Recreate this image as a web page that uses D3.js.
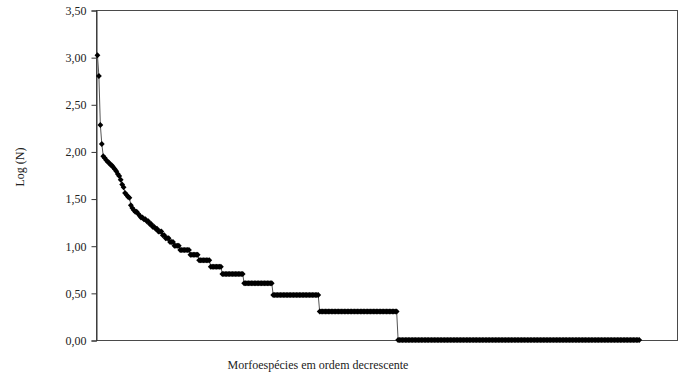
<!DOCTYPE html>
<html>
<head>
<meta charset="utf-8">
<script src="https://cdn.jsdelivr.net/npm/d3@7"></script>
<style>
  body { margin: 0; background: #fff; }
  svg text { font-family: "Liberation Serif", serif; fill: #222; }
</style>
</head>
<body>
<svg id="chart" width="682" height="376"></svg>
<script>
// log(N) of the most abundant morphospecies, one value per species
var topLogN = [3.02, 2.80, 2.28, 2.08, 1.95, 1.93, 1.91, 1.89, 1.88, 1.86,
               1.85, 1.83, 1.81, 1.79, 1.76, 1.74, 1.70, 1.65, 1.62, 1.56,
               1.54, 1.52, 1.51, 1.43, 1.40, 1.38, 1.36, 1.36, 1.34, 1.32,
               1.30, 1.30, 1.28, 1.28, 1.26, 1.26, 1.23, 1.23, 1.20, 1.20,
               1.18, 1.18, 1.15, 1.15, 1.15, 1.11, 1.11, 1.08, 1.08, 1.08,
               1.04, 1.04, 1.04, 1.00, 1.00, 1.00, 1.00];
// the rarer ones sit on plateaus: log(N) level and number of species on it
var plateauLevels  = [0.954, 0.903, 0.845, 0.778, 0.699, 0.602, 0.477, 0.301, 0.00];
var plateauSpecies = [7, 6, 8, 8, 15, 20, 32, 54, 167];
var yTicks = [0, 0.5, 1, 1.5, 2, 2.5, 3, 3.5];

var logN = topLogN.slice();
plateauLevels.forEach(function(v, i) {
    for (var k = 0; k < plateauSpecies[i]; k++) logN.push(v);
});
var points = logN.map(function(v, i) { return { rank: i + 1, value: v }; });

var plotLeft = 96, plotRight = 677, plotTop = 10, plotBottom = 340;
var svg = d3.select("#chart");

var x = d3.scaleLinear().domain([0, 400]).range([plotLeft, plotRight]);
var y = d3.scaleLinear().domain([0, 3.5]).range([plotBottom, plotTop]);

// frame
svg.append("rect")
    .attr("x", plotLeft + 0.5).attr("y", plotTop + 0.5)
    .attr("width", plotRight - plotLeft).attr("height", plotBottom - plotTop)
    .attr("fill", "none").attr("stroke", "#4a4a4a").attr("stroke-width", 1);

// y axis
var yAxis = d3.axisLeft(y)
    .tickValues(yTicks)
    .tickSize(5)
    .tickPadding(5)
    .tickFormat(function(d) { return d3.format(".2f")(d).replace(".", ","); });
var ga = svg.append("g")
    .attr("transform", "translate(" + (plotLeft + 0.5) + ",0.5)")
    .call(yAxis);
ga.select(".domain").attr("stroke", "#333");
ga.selectAll(".tick line").attr("stroke", "#333");
ga.selectAll(".tick text")
    .attr("font-family", "Liberation Serif, serif")
    .attr("font-size", 12)
    .attr("fill", "#222");

// connecting line
var line = d3.line()
    .x(function(d) { return x(d.rank); })
    .y(function(d) { return y(d.value); });
svg.append("path")
    .datum(points)
    .attr("d", line)
    .attr("fill", "none")
    .attr("stroke", "#555")
    .attr("stroke-width", 1);

// diamond markers
var diamond = "M0,-3L2.9,0L0,3L-2.9,0Z";
svg.selectAll(".pt")
    .data(points)
    .enter().append("path")
        .attr("class", "pt")
        .attr("d", diamond)
        .attr("transform", function(d) { return "translate(" + x(d.rank) + "," + y(d.value) + ")"; })
        .attr("fill", "#000");

// axis titles
svg.append("text")
    .attr("x", 318)
    .attr("y", 369)
    .attr("text-anchor", "middle")
    .attr("font-size", 12)
    .text("Morfoespécies em ordem decrescente");
svg.append("text")
    .attr("transform", "translate(24,167) rotate(-90)")
    .attr("text-anchor", "middle")
    .attr("font-size", 12)
    .text("Log (N)");
</script>
</body>
</html>
